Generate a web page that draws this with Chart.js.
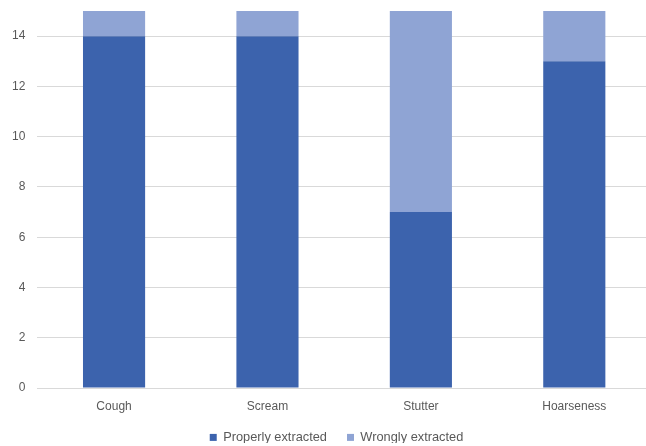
<!DOCTYPE html>
<html>
<head>
<meta charset="utf-8">
<script src="https://cdn.jsdelivr.net/npm/chart.js@4"></script>
<style>
  html, body { margin: 0; padding: 0; background: #ffffff; overflow: hidden; }
  #wrap { width: 646px; height: 446px; overflow: hidden; }
  #c { display: block; }
</style>
</head>
<body>
<div id="wrap"><canvas id="c" width="651" height="446"></canvas></div>
<script>
const categories = ['Cough', 'Scream', 'Stutter', 'Hoarseness'];
const properlyExtracted = [14, 14, 7, 13];
const wronglyExtracted = [1, 1, 8, 2];
const seriesNames = ['Properly extracted', 'Wrongly extracted'];

const textColor = '#595959';
const gridColor = '#d9d9d9';
const font = { family: '"Liberation Sans", Arial, sans-serif', size: 12 };
const legendFont = { family: '"Liberation Sans", Arial, sans-serif', size: 12.8 };

// nudge the legend row a little right of centre and up against the axis labels
const legendNudge = {
  id: 'legendNudge',
  afterLayout(chart) {
    const lg = chart.legend;
    lg.left += 11; lg.right += 11;
    lg.top -= 3; lg.bottom -= 3;
  }
};

new Chart(document.getElementById('c'), {
  type: 'bar',
  data: {
    labels: categories,
    datasets: [
      { label: seriesNames[0], data: properlyExtracted, backgroundColor: '#3c63ad' },
      { label: seriesNames[1], data: wronglyExtracted, backgroundColor: '#8fa4d4' }
    ]
  },
  plugins: [legendNudge],
  options: {
    responsive: false,
    animation: false,
    layout: { padding: { top: 11, right: 0, left: 0, bottom: 0 } },
    datasets: { bar: { barPercentage: 0.405, categoryPercentage: 1 } },
    plugins: {
      legend: {
        position: 'bottom',
        maxHeight: 32,
        labels: { boxWidth: 7, boxHeight: 7, color: textColor, font: legendFont, padding: 20 }
      },
      tooltip: { enabled: false }
    },
    scales: {
      x: {
        stacked: true,
        grid: { display: false, drawTicks: false },
        border: { display: true, color: gridColor },
        ticks: { color: textColor, font: font, padding: 11 },
        afterFit(scale) { scale.height = 26; }
      },
      y: {
        stacked: true,
        min: 0,
        max: 15,
        grid: { color: gridColor, drawTicks: false },
        border: { display: false },
        ticks: { stepSize: 2, includeBounds: false, color: textColor, font: font, padding: 12 },
        // the top value (15) carries no label, so no room is kept above it
        afterFit(scale) { scale.paddingTop = 0; scale.paddingBottom = 0; }
      }
    }
  }
});
</script>
</body>
</html>
